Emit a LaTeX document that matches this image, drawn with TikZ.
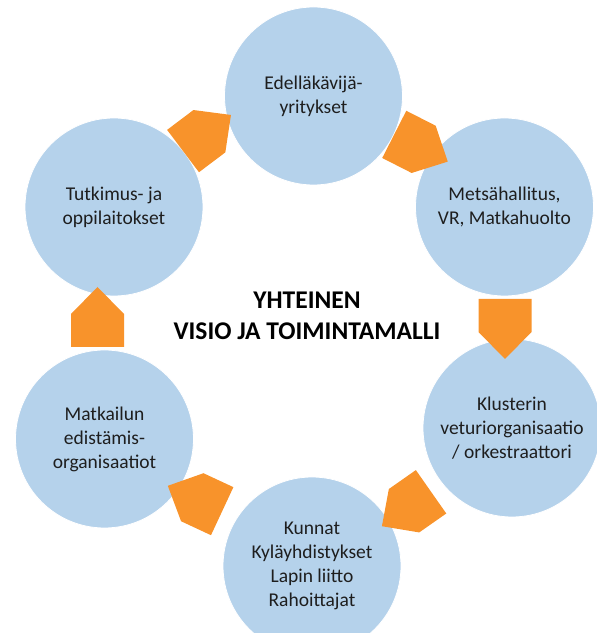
\documentclass[tikz,border=0pt]{standalone}
\usepackage{fontspec}
\setmainfont{Carlito}
\definecolor{cblue}{RGB}{181,210,235}
\definecolor{corange}{RGB}{248,147,43}
\definecolor{ctext}{RGB}{30,30,30}
\begin{document}
\begin{tikzpicture}[x=1pt,y=1pt,
  bubble/.style={circle, fill=cblue, draw=white, line width=0.8pt, minimum size=178pt,
    inner sep=0pt, align=center, text=ctext, font=\fontsize{19.5}{24}\selectfont},
  arrowfill/.style={fill=corange},
  title/.style={align=center, text=black, font=\bfseries\fontsize{25.5}{31}\selectfont}]
\useasboundingbox (0,0) rectangle (597,633);
\node[bubble] (top) at (313.5,537) {Edelläkävijä-\\yritykset};
\node[bubble] (ur) at (504.5,426) {Metsähallitus,\\VR, Matkahuolto};
\node[bubble] (lr) at (512,205) {Klusterin\\veturiorganisaatio\\/ orkestraattori};
\node[bubble] (bot) at (312,67) {Kunnat\\Kyläyhdistykset\\Lapin liitto\\Rahoittajat};
\node[bubble] (ll) at (104.5,194) {Matkailun\\edistämis-\\organisaatiot};
\node[bubble] (ul) at (114,426) {Tutkimus- ja\\oppilaitokset};
\node[title] (vision) at (307,317) {YHTEINEN\\VISIO JA TOIMINTAMALLI};
\foreach \px/\py/\ang in {207/500/37, 421/485/-27, 505/304/-90, 406.5/124/-145, 195/134.5/155, 97.5/316/90}{
  \fill[arrowfill, shift={(\px,\py)}, rotate=\ang]
    (-30,-26.5) -- (3,-26.5) -- (30,0) -- (3,26.5) -- (-30,26.5) -- cycle;
}
\end{tikzpicture}
\end{document}
